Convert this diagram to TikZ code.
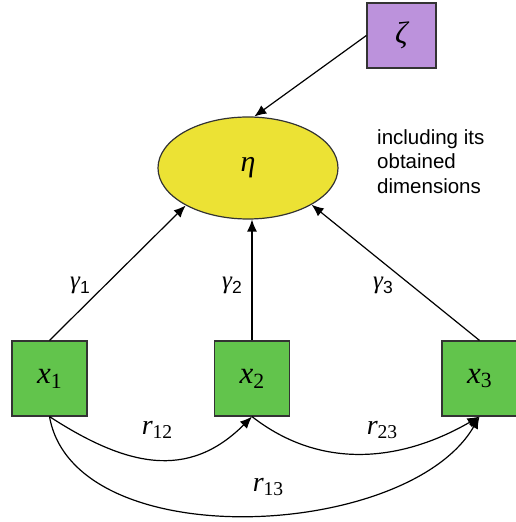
\documentclass[tikz,border=0pt]{standalone}
\usepackage{graphicx}
\usepackage{fontspec}
\newfontfamily\notefont{Liberation Sans}
\newfontfamily\symfont{Liberation Serif}
\usepackage{tikz}
\usetikzlibrary{arrows.meta, shapes.geometric}

\definecolor{errpurple}{RGB}{188,146,220}
\definecolor{latyellow}{RGB}{236,226,52}
\definecolor{obsgreen}{RGB}{98,196,76}

% italic symbol with an upright subscript
\newcommand{\symvar}[2]{{\symfont\itshape #1}\raisebox{-0.16em}{\scalebox{0.7}{\symfont #2}}}
\newcommand{\symvarsf}[2]{{\symfont\itshape #1}\raisebox{-0.2em}{\scalebox{0.7}{\notefont #2}}}

\begin{document}
\begin{tikzpicture}[
  x=1pt, y=1pt,
  >={Latex[length=12pt,width=10pt]},
  obsnode/.style={
    rectangle, draw=black!80, fill=obsgreen, line width=1.2pt,
    minimum width=75pt, minimum height=75pt, inner sep=0pt,
    font=\symfont\fontsize{31}{36}\selectfont
  },
  errnode/.style={
    rectangle, draw=black!80, fill=errpurple, line width=1.2pt,
    minimum width=69pt, minimum height=65pt, inner sep=0pt,
    font=\symfont\itshape\fontsize{31}{36}\selectfont
  },
  latnode/.style={
    ellipse, draw=black!80, fill=latyellow, line width=1.2pt,
    minimum width=180pt, minimum height=102pt, inner sep=0pt,
    font=\symfont\itshape\fontsize{30}{36}\selectfont
  },
  gamlabel/.style={font=\symfont\fontsize{25}{30}\selectfont, inner sep=0pt},
  corlabel/.style={font=\symfont\fontsize{28}{32}\selectfont, inner sep=0pt},
  pathedge/.style={draw, ->, line width=1.2pt, black},
]
\useasboundingbox (0,0) rectangle (515,522);

% ============================================================
% NODES
% ============================================================
\node[errnode] (zeta) at (401.5,486.5) {ζ};
\node[latnode] (eta) at (248,354) {η};
\node[anchor=north west, align=left, inner sep=0pt,
      font=\notefont\fontsize{20.5}{24.5}\selectfont]
  (note) at (377,393) {including its\\obtained\\dimensions};

\node[obsnode] (x1) at (49.5,143.5) {\symvar{x}{1}};
\node[obsnode] (x2) at (252,143.5) {\symvar{x}{2}};
\node[obsnode] (x3) at (479.5,143.5) {\symvar{x}{3}};

% ============================================================
% PATHS INTO ETA
% ============================================================
\draw[pathedge] (zeta.west) -- (eta.83);
\draw[pathedge] (x1.north) -- (eta.211);
\draw[pathedge] (x2.north) -- (x2.north |- eta.south);
\draw[pathedge] (x3.north) -- (eta.330);

\node[gamlabel] (g1) at (80,237) {\symvarsf{γ}{1}};
\node[gamlabel] (g2) at (232,237) {\symvarsf{γ}{2}};
\node[gamlabel] (g3) at (383,237) {\symvarsf{γ}{3}};

% ============================================================
% CORRELATIONS BELOW
% ============================================================
\draw[pathedge] (x1.south) to[out=-33, in=-135, looseness=1.15] (x2.south);
\draw[pathedge] (x2.south) to[out=-38, in=-150] (x3.south);
\draw[pathedge] (x1.south) to[out=-80, in=-120, looseness=0.85] (x3.south);

\node[corlabel] (r12) at (157,92) {\symvar{r}{12}};
\node[corlabel] (r23) at (382,92) {\symvar{r}{23}};
\node[corlabel] (r13) at (268,35) {\symvar{r}{13}};

\end{tikzpicture}
\end{document}
